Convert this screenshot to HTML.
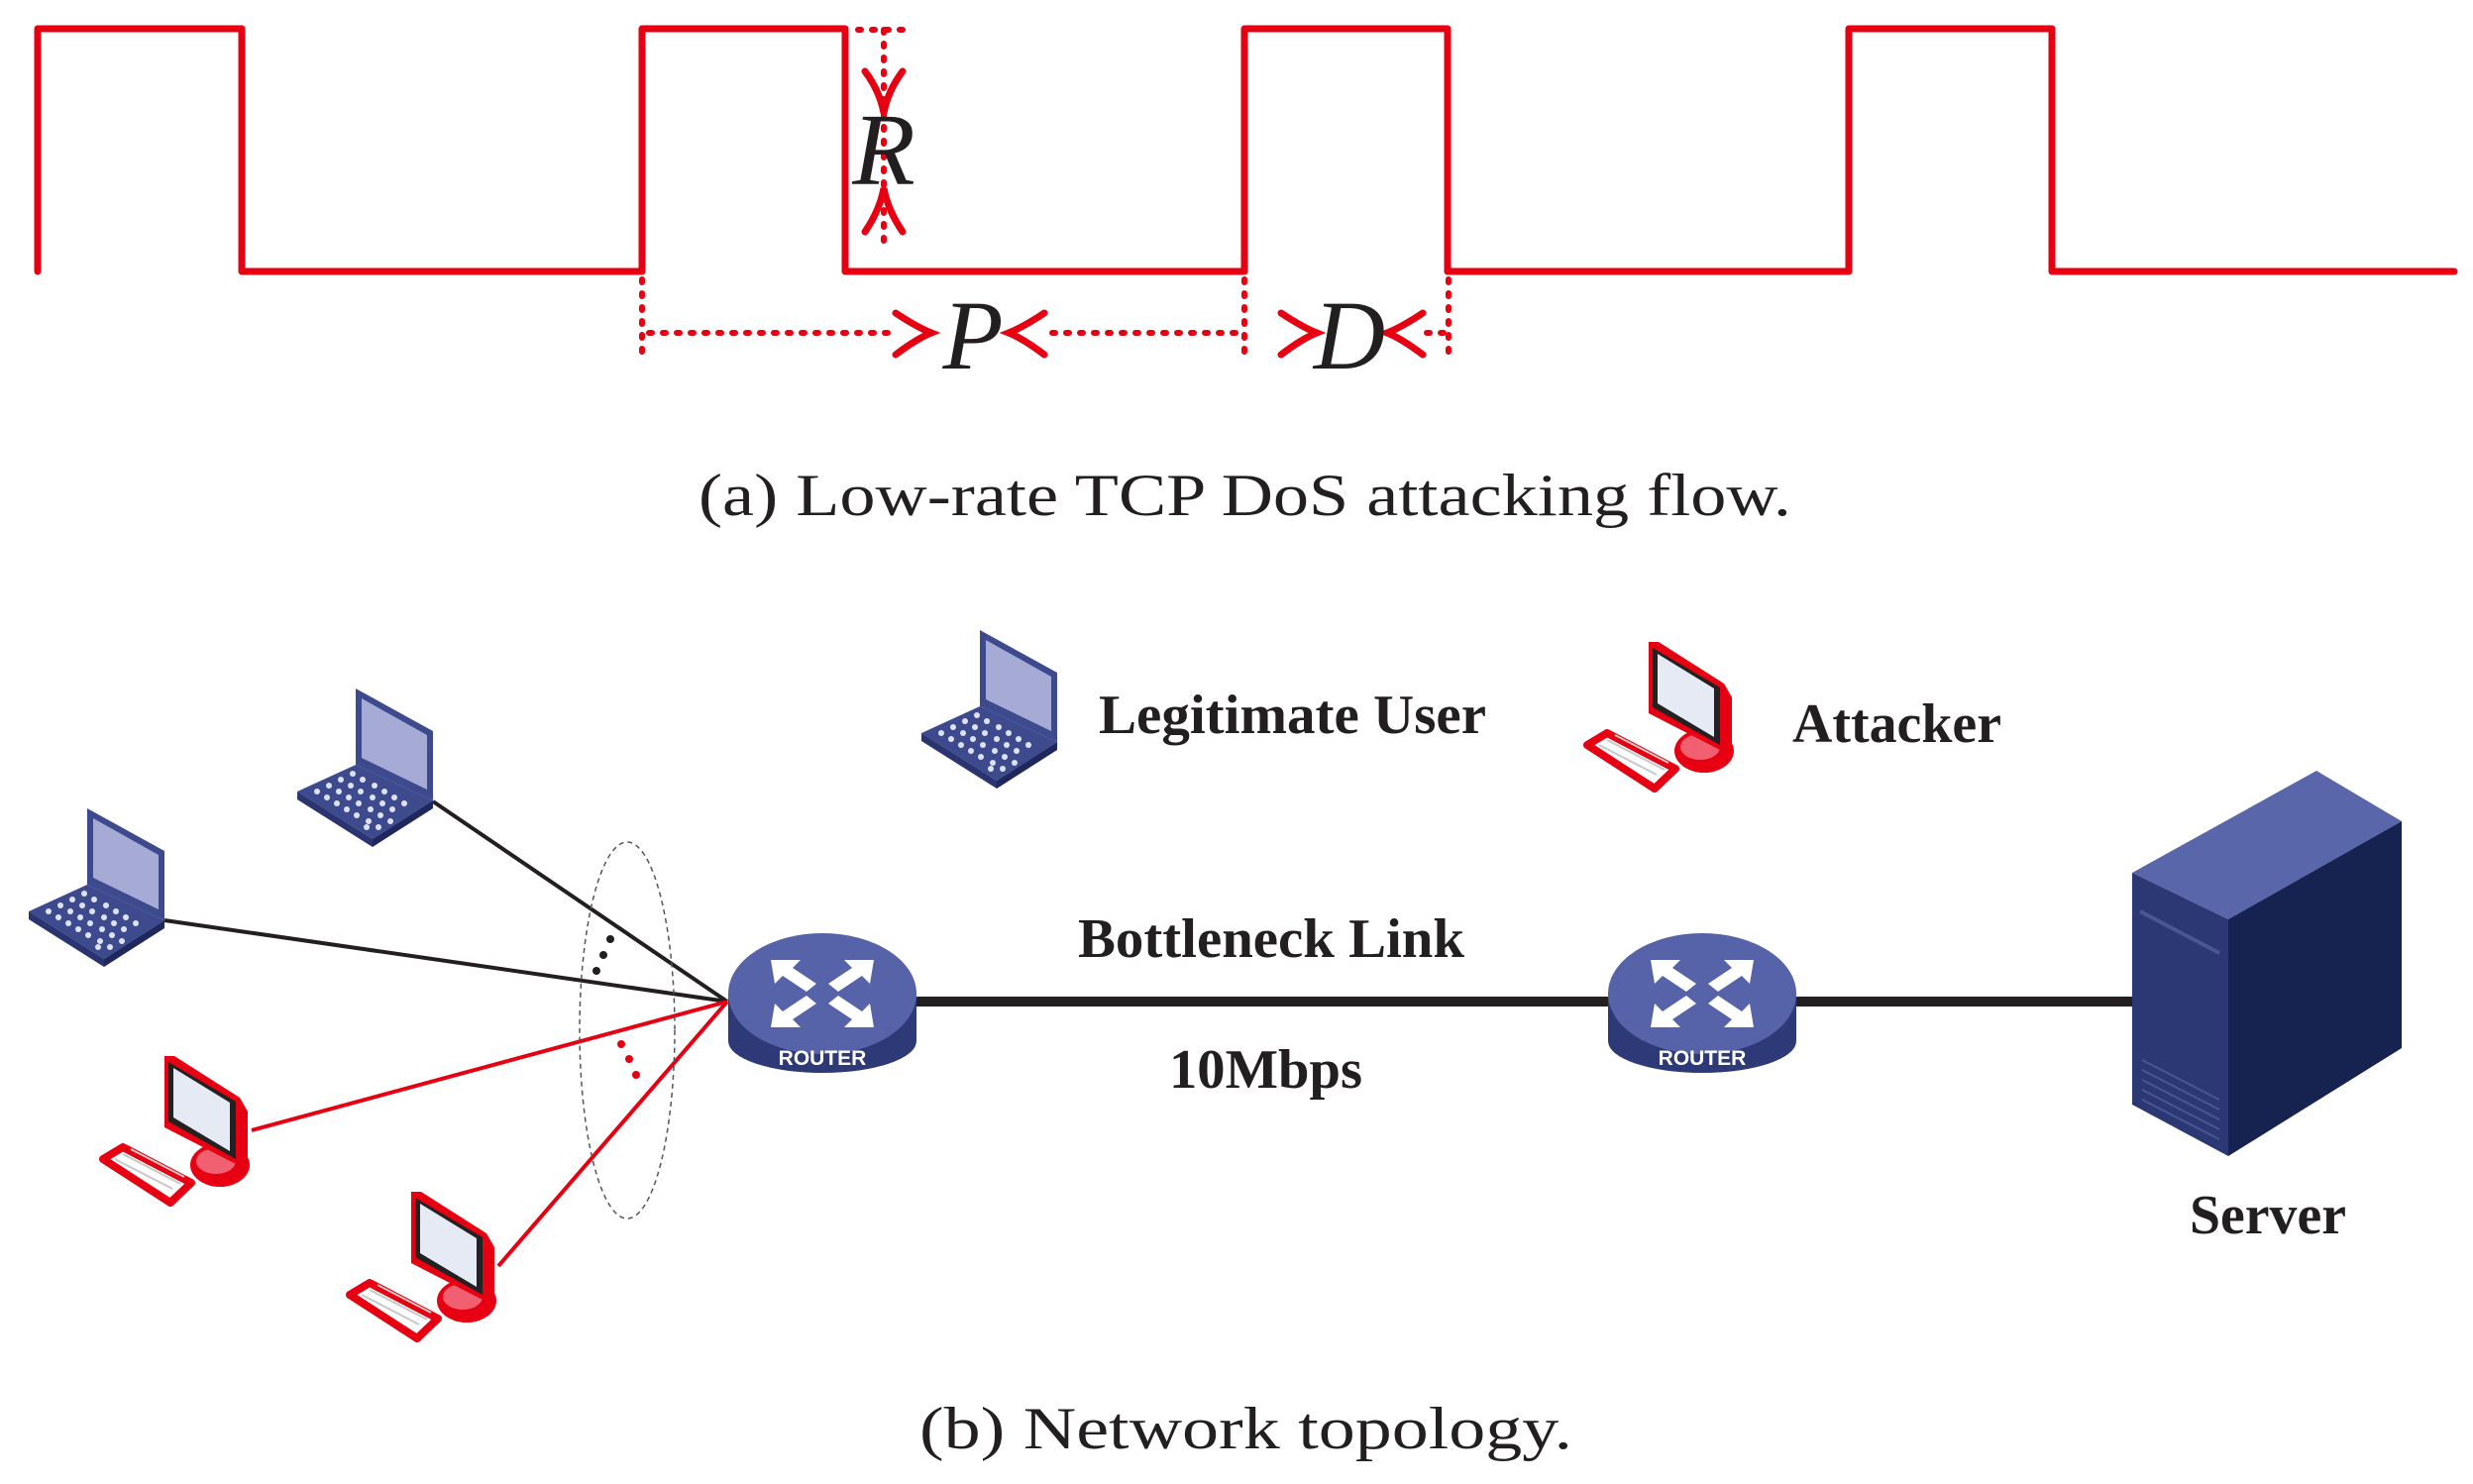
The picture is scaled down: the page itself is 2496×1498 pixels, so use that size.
<!DOCTYPE html>
<html><head><meta charset="utf-8"><style>html,body{margin:0;padding:0;background:#fff}svg{display:block}</style></head>
<body>
<svg width="2496" height="1498" viewBox="0 0 2496 1498" xmlns="http://www.w3.org/2000/svg">
<defs>
<g id="laptop">
  <polygon points="0,104 59,77 137,113 76,152" fill="#3d4a8e"/>
  <polygon points="0,104 76,152 76,160 0,112" fill="#2a3470"/>
  <polygon points="76,152 137,113 137,121 76,160" fill="#1f285c"/>
  <polygon points="59,0 137,43 137,113 59,77" fill="#3d4a8e"/>
  <polygon points="65,10 131,47 131,102 65,70" fill="#a6abd6"/>
  <g fill="#dfe2f2">
    <circle cx="20" cy="104" r="3"/><circle cx="32" cy="98" r="3"/><circle cx="44" cy="92" r="3"/><circle cx="56" cy="86" r="3"/>
    <circle cx="30" cy="110" r="3"/><circle cx="42" cy="104" r="3"/><circle cx="54" cy="98" r="3"/><circle cx="66" cy="92" r="3"/><circle cx="78" cy="98" r="3"/>
    <circle cx="40" cy="116" r="3"/><circle cx="52" cy="110" r="3"/><circle cx="64" cy="104" r="3"/><circle cx="76" cy="110" r="3"/><circle cx="88" cy="104" r="3"/>
    <circle cx="50" cy="122" r="3"/><circle cx="62" cy="116" r="3"/><circle cx="74" cy="122" r="3"/><circle cx="86" cy="116" r="3"/><circle cx="98" cy="110" r="3"/>
    <circle cx="60" cy="128" r="3"/><circle cx="72" cy="134" r="3"/><circle cx="84" cy="128" r="3"/><circle cx="96" cy="122" r="3"/><circle cx="108" cy="116" r="3"/>
    <circle cx="70" cy="140" r="3"/><circle cx="82" cy="140" r="3"/><circle cx="94" cy="134" r="3"/>
  </g>
</g>
<g id="attacker">
  <polygon points="4,106 24,94 93,130 72,150" fill="#fff" stroke="#e60012" stroke-width="8" stroke-linejoin="round"/>
  <g stroke="#c8c8c8" stroke-width="2"><line x1="16" y1="106" x2="74" y2="136"/><line x1="24" y1="101" x2="82" y2="131"/><line x1="32" y1="96" x2="86" y2="124"/></g>
  <ellipse cx="122" cy="112" rx="30" ry="22" fill="#e60012"/>
  <ellipse cx="118" cy="108" rx="20" ry="13" fill="#f06070"/>
  <polygon points="66,2 76,2 142,44 150,58 150,110 140,112 66,74" fill="#e60012"/>
  <polygon points="70,8 138,48 138,106 70,68" fill="#222"/>
  <polygon points="75,14 132,49 132,98 75,64" fill="#e6eaf4"/>
</g>
<g id="router">
  <path d="M-95,0 L-95,48 A95,32 0 0 0 95,48 L95,0 Z" fill="#2e3a78"/>
  <ellipse cx="0" cy="0" rx="95" ry="61" fill="#5763a8"/>
  <g fill="#fff">
    <polygon points="-52,-34 -22,-34 -30,-26 -6,-10 -16,-2 -40,-18 -48,-10"/>
    <polygon points="52,-34 22,-34 30,-26 6,-10 16,-2 40,-18 48,-10"/>
    <polygon points="-52,34 -22,34 -30,26 -6,10 -16,2 -40,18 -48,10"/>
    <polygon points="52,34 22,34 30,26 6,10 16,2 40,18 48,10"/>
  </g>
  <text x="0" y="72" text-anchor="middle" font-family="Liberation Sans, sans-serif" font-weight="bold" font-size="21" fill="#fff">ROUTER</text>
</g>
</defs>

<polyline points="38,274 38,29 244,29 244,274 648,274 648,29 853,29 853,274 1256,274 1256,29 1461,29 1461,274 1866,274 1866,29 2071,29 2071,274 2477,274" fill="none" stroke="#e60012" stroke-width="7" stroke-linejoin="round" stroke-linecap="round"/>

<g stroke="#e60012" stroke-width="6" stroke-linecap="round" stroke-dasharray="3 11" fill="none">
  <line x1="892" y1="30" x2="892" y2="250"/>
  <line x1="866" y1="30" x2="918" y2="30"/>
  <line x1="648" y1="282" x2="648" y2="364"/>
  <line x1="1256" y1="282" x2="1256" y2="364"/>
  <line x1="1462" y1="282" x2="1462" y2="364"/>
  <line x1="655" y1="336" x2="900" y2="336"/>
  <line x1="1062" y1="336" x2="1250" y2="336"/>
  <line x1="1440" y1="336" x2="1462" y2="336"/>
</g>
<g stroke="#e60012" stroke-width="7" fill="none" stroke-linecap="round">
  <path d="M873,72 Q888,92 892,114 Q896,92 911,72"/>
  <path d="M873,234 Q888,212 892,190 Q896,212 911,234"/>
  <path d="M904,316 Q925,330 940,336 Q925,342 904,358"/>
  <path d="M1054,316 Q1033,330 1018,336 Q1033,342 1054,358"/>
  <path d="M1293,316 Q1314,330 1329,336 Q1314,342 1293,358"/>
  <path d="M1436,316 Q1415,330 1400,336 Q1415,342 1436,358"/>
</g>
<g font-family="Liberation Serif, serif" font-style="italic" fill="#231f20">
  <text x="892" y="186" text-anchor="middle" font-size="104">R</text>
  <text x="982" y="372" text-anchor="middle" font-size="100">P</text>
  <text x="1362" y="372" text-anchor="middle" font-size="100">D</text>
</g>
<text x="705" y="520" font-family="Liberation Serif, serif" font-size="60" fill="#231f20" textLength="1103" lengthAdjust="spacingAndGlyphs">(a)  Low-rate TCP DoS attacking flow.</text>

<g stroke="#231f20" stroke-width="4">
  <line x1="437" y1="809" x2="734" y2="1011"/>
  <line x1="166" y1="929" x2="734" y2="1011"/>
</g>
<g stroke="#e60012" stroke-width="4">
  <line x1="254" y1="1141" x2="734" y2="1011"/>
  <line x1="503" y1="1278" x2="734" y2="1011"/>
</g>
<ellipse cx="633" cy="1040" rx="48" ry="190" fill="none" stroke="#555" stroke-width="1.5" stroke-dasharray="5 4"/>
<g fill="#231f20"><circle cx="616" cy="948" r="4"/><circle cx="609" cy="964" r="4"/><circle cx="602" cy="980" r="4"/></g>
<g fill="#e60012"><circle cx="627" cy="1054" r="4"/><circle cx="635" cy="1069" r="4"/><circle cx="642" cy="1085" r="4"/></g>

<g stroke="#231f20" stroke-width="10" stroke-linecap="round">
  <line x1="925" y1="1011" x2="1622" y2="1011"/>
  <line x1="1814" y1="1011" x2="2152" y2="1011"/>
</g>

<use href="#laptop" x="300" y="695"/>
<use href="#laptop" x="29" y="816"/>
<use href="#laptop" x="930" y="636"/>
<use href="#attacker" x="100" y="1064"/>
<use href="#attacker" x="349" y="1201"/>
<use href="#attacker" x="1598" y="646"/>
<use href="#router" x="830" y="1003"/>
<use href="#router" x="1718" y="1003"/>

<polygon points="2152,881 2338,778 2424,829 2249,928" fill="#5a66aa"/>
<polygon points="2249,928 2424,829 2424,1058 2249,1167" fill="#16224f"/>
<polygon points="2152,881 2249,928 2249,1167 2152,1115" fill="#2c3873"/>
<line x1="2160" y1="920" x2="2240" y2="962" stroke="#4a5596" stroke-width="4"/>
<g stroke="#4a5596" stroke-width="2">
  <line x1="2162" y1="1070" x2="2240" y2="1110"/><line x1="2162" y1="1080" x2="2240" y2="1120"/><line x1="2162" y1="1090" x2="2240" y2="1130"/><line x1="2162" y1="1100" x2="2240" y2="1140"/><line x1="2162" y1="1110" x2="2240" y2="1150"/>
</g>

<g font-family="Liberation Serif, serif" font-weight="bold" font-size="56" fill="#231f20">
  <text x="1109" y="740" textLength="391" lengthAdjust="spacingAndGlyphs">Legitimate User</text>
  <text x="1809" y="749" textLength="211" lengthAdjust="spacingAndGlyphs">Attacker</text>
  <text x="1088" y="966" textLength="390" lengthAdjust="spacingAndGlyphs">Bottleneck Link</text>
  <text x="1180" y="1098" textLength="195" lengthAdjust="spacingAndGlyphs">10Mbps</text>
  <text x="2210" y="1245" textLength="158" lengthAdjust="spacingAndGlyphs">Server</text>
</g>
<text x="928" y="1462" font-family="Liberation Serif, serif" font-size="60" fill="#231f20" textLength="659" lengthAdjust="spacingAndGlyphs">(b)  Network topology.</text>
</svg>
</body></html>
